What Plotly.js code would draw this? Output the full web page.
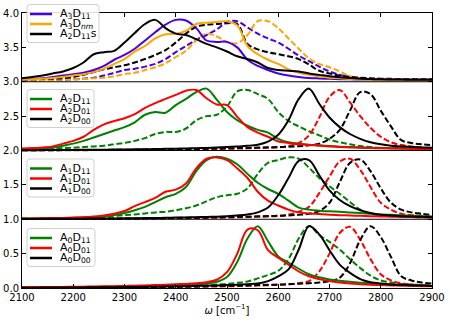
<!DOCTYPE html>
<html>
<head>
<meta charset="utf-8">
<script src="https://cdn.plot.ly/plotly-3.0.1.min.js"></script>
<style>html,body{margin:0;padding:0;background:#fff;}</style>
</head>
<body>
<div id="plot" style="width:450px;height:323px;"></div>
<script>
// wavenumber grid (cm^-1)
var omega = [2100, 2120, 2140, 2160, 2180, 2200, 2220, 2240, 2260, 2280,
             2300, 2320, 2340, 2360, 2380, 2400, 2420, 2440, 2460, 2480,
             2500, 2520, 2540, 2560, 2580, 2600, 2620, 2640, 2660, 2680,
             2700, 2720, 2740, 2760, 2780, 2800, 2820, 2840, 2860, 2880, 2900];

// panel A0 (baseline 0)
var a0d11 = [.01,.01,.011,.012,.013,.014,.015,.016,.018,.02,.022,.025,.028,.032,.036,.04,.045,.05,.065,.09,
             .16,.38,.72,.9,.68,.46,.37,.28,.2,.155,.125,.105,.09,.078,.068,.06,.052,.045,.04,.035,.03];
var a0d01 = [.012,.013,.014,.015,.016,.018,.02,.022,.024,.027,.03,.034,.038,.043,.048,.054,.06,.068,.085,.12,
             .23,.5,.85,.84,.55,.44,.34,.24,.17,.13,.1,.08,.065,.055,.048,.042,.037,.033,.03,.027,.025];
var a0d00 = [.005,.005,.006,.006,.007,.008,.009,.01,.011,.012,.013,.015,.017,.019,.021,.024,.027,.03,.034,.038,
             .043,.048,.055,.065,.1,.17,.27,.56,.9,.78,.55,.34,.22,.13,.085,.065,.052,.045,.04,.035,.03];
var a0d11Dash = [.005,.006,.007,.008,.009,.01,.011,.012,.013,.015,.017,.019,.021,.023,.025,.028,.031,.035,.04,.05,
                 .06,.075,.095,.14,.19,.25,.42,.72,.9,.77,.67,.56,.42,.29,.18,.11,.08,.06,.05,.045,.04];
var a0d01Dash = [.003,.003,.003,.004,.004,.005,.005,.006,.006,.007,.008,.009,.01,.011,.012,.014,.016,.018,.02,.022,
                 .025,.028,.031,.035,.04,.046,.055,.07,.1,.24,.5,.8,.89,.7,.42,.2,.11,.07,.05,.04,.03];
var a0d00Dash = [.004,.004,.005,.005,.006,.006,.007,.008,.009,.01,.011,.012,.013,.015,.017,.019,.021,.023,.026,.029,
                 .032,.035,.038,.042,.046,.05,.055,.062,.07,.08,.1,.15,.36,.7,.9,.74,.45,.17,.11,.08,.065];

// panel A1 (baseline 1)
var a1d11 = [.01,.011,.012,.014,.016,.02,.025,.03,.04,.06,.09,.13,.18,.25,.32,.37,.47,.7,.86,.91,
             .88,.8,.66,.53,.44,.37,.27,.17,.14,.125,.115,.11,.1,.09,.08,.07,.065,.06,.05,.045,.04];
var a1d01 = [.01,.012,.014,.017,.02,.025,.03,.04,.055,.08,.12,.19,.25,.31,.4,.43,.52,.74,.88,.9,
             .86,.74,.6,.4,.27,.2,.14,.1,.085,.075,.065,.06,.055,.05,.045,.04,.037,.034,.031,.028,.025];
var a1d00 = [.005,.005,.006,.006,.007,.008,.009,.01,.011,.012,.013,.015,.017,.019,.021,.024,.027,.03,.034,.038,
             .045,.055,.07,.1,.17,.35,.6,.85,.86,.64,.42,.28,.19,.13,.09,.065,.055,.045,.04,.035,.03];
var a1d11Dash = [.01,.011,.012,.014,.016,.02,.025,.03,.04,.05,.06,.07,.085,.1,.11,.13,.16,.2,.26,.32,
                 .35,.37,.45,.66,.82,.86,.9,.88,.75,.6,.48,.37,.25,.14,.08,.06,.05,.04,.035,.03,.03];
var a1d01Dash = [.003,.003,.003,.004,.004,.005,.005,.006,.006,.007,.008,.009,.01,.011,.012,.014,.016,.018,.02,.022,
                 .025,.028,.032,.036,.04,.048,.07,.11,.18,.38,.62,.84,.88,.72,.47,.24,.14,.08,.06,.05,.04];
var a1d00Dash = [.004,.004,.005,.005,.006,.006,.007,.008,.009,.01,.011,.012,.013,.015,.017,.019,.021,.023,.026,.029,
                 .032,.035,.038,.042,.046,.05,.055,.065,.08,.12,.24,.54,.82,.87,.7,.45,.24,.14,.1,.08,.06];

// panel A2 (baseline 2)
var a2d11 = [.02,.025,.03,.04,.07,.1,.14,.19,.24,.29,.34,.41,.52,.56,.55,.66,.75,.85,.9,.74,
             .56,.44,.36,.3,.26,.17,.12,.1,.085,.075,.065,.055,.05,.045,.04,.035,.032,.03,.027,.025,.022];
var a2d01 = [.03,.035,.045,.06,.1,.14,.2,.3,.38,.43,.47,.53,.62,.69,.75,.81,.87,.88,.76,.67,
             .66,.49,.34,.26,.2,.13,.11,.09,.08,.07,.06,.05,.045,.04,.035,.032,.03,.028,.025,.022,.02];
var a2d00 = [.005,.005,.006,.007,.008,.009,.01,.011,.012,.013,.015,.017,.019,.021,.024,.027,.03,.034,.038,.043,
             .05,.058,.068,.085,.13,.23,.44,.75,.9,.68,.48,.34,.24,.17,.12,.09,.07,.06,.05,.045,.04];
var a2d11Dash = [.02,.022,.025,.03,.035,.04,.05,.06,.07,.09,.11,.14,.18,.24,.27,.27,.32,.44,.5,.52,
                 .64,.86,.88,.82,.75,.56,.43,.35,.28,.22,.16,.12,.09,.065,.05,.04,.035,.032,.03,.028,.025];
var a2d01Dash = [.003,.003,.003,.004,.004,.005,.005,.006,.006,.007,.008,.009,.01,.011,.012,.014,.016,.018,.02,.022,
                 .025,.028,.031,.035,.04,.045,.065,.11,.22,.48,.78,.88,.7,.5,.33,.2,.12,.08,.06,.045,.035];
var a2d00Dash = [.004,.004,.005,.005,.006,.006,.007,.008,.009,.01,.011,.012,.013,.015,.017,.019,.021,.023,.026,.029,
                 .032,.035,.038,.042,.046,.05,.055,.062,.075,.1,.17,.3,.58,.85,.82,.58,.35,.15,.11,.09,.08];

// panel A3 (baseline 3)
var a3d11 = [.03,.04,.05,.07,.09,.11,.13,.17,.23,.32,.39,.48,.6,.72,.83,.9,.89,.78,.6,.58,
             .58,.5,.32,.23,.17,.12,.09,.07,.055,.048,.042,.038,.035,.033,.031,.03,.03,.03,.03,.03,.03];
var a3dnm = [.03,.035,.045,.055,.07,.09,.11,.14,.19,.26,.33,.44,.52,.63,.69,.7,.74,.84,.86,.87,
             .88,.82,.52,.4,.32,.26,.18,.13,.1,.08,.06,.05,.04,.035,.032,.03,.03,.03,.03,.03,.03];
var a2d11s = [.05,.07,.09,.12,.15,.2,.28,.4,.43,.45,.57,.71,.84,.9,.78,.7,.68,.62,.55,.5,
              .44,.37,.33,.28,.2,.17,.16,.15,.12,.1,.08,.065,.055,.045,.04,.035,.033,.031,.03,.03,.03];
var a3d11Dash = [.02,.022,.025,.028,.03,.035,.045,.06,.09,.13,.17,.19,.22,.26,.33,.43,.52,.61,.68,.76,
                 .87,.88,.79,.7,.63,.57,.48,.38,.3,.22,.15,.1,.07,.05,.04,.035,.032,.03,.03,.03,.03];
var a3dnmDash = [.02,.02,.022,.025,.03,.035,.04,.05,.06,.08,.11,.13,.17,.21,.27,.36,.45,.6,.7,.66,
                 .58,.56,.68,.88,.88,.78,.63,.48,.34,.26,.21,.15,.08,.05,.04,.035,.03,.03,.03,.03,.03];
var a2d11sDash = [.03,.035,.04,.045,.05,.07,.1,.14,.18,.21,.24,.28,.33,.39,.46,.57,.7,.8,.83,.84,
                  .85,.84,.55,.47,.43,.4,.37,.33,.25,.16,.12,.09,.07,.06,.05,.045,.042,.04,.04,.04,.04];

// legend labels and colours per panel (bottom to top)
var labels0 = ["A<sub>0</sub>D<sub>11</sub>", "A<sub>0</sub>D<sub>01</sub>", "A<sub>0</sub>D<sub>00</sub>"];
var labels1 = ["A<sub>1</sub>D<sub>11</sub>", "A<sub>1</sub>D<sub>01</sub>", "A<sub>1</sub>D<sub>00</sub>"];
var labels2 = ["A<sub>2</sub>D<sub>11</sub>", "A<sub>2</sub>D<sub>01</sub>", "A<sub>2</sub>D<sub>00</sub>"];
var labels3 = ["A<sub>3</sub>D<sub>11</sub>", "A<sub>3</sub>D<sub><i>nm</i></sub>", "A<sub>2</sub>D<sub>11</sub>s"];
var colorsLow = ["#008000", "#ff0000", "#000000"];
var colorsTop = ["#4600e6", "#ffa500", "#000000"];

var panels = [
  {base: 0, labels: labels0, colors: colorsLow, solid: [a0d11, a0d01, a0d00], dash: [a0d11Dash, a0d01Dash, a0d00Dash]},
  {base: 1, labels: labels1, colors: colorsLow, solid: [a1d11, a1d01, a1d00], dash: [a1d11Dash, a1d01Dash, a1d00Dash]},
  {base: 2, labels: labels2, colors: colorsLow, solid: [a2d11, a2d01, a2d00], dash: [a2d11Dash, a2d01Dash, a2d00Dash]},
  {base: 3, labels: labels3, colors: colorsTop, solid: [a3d11, a3dnm, a2d11s], dash: [a3d11Dash, a3dnmDash, a2d11sDash]}
];

var data = [];
panels.forEach(function(p) {
  p.dash.forEach(function(arr, i) {
    data.push({x: omega, y: arr.map(function(v) { return v + p.base; }), mode: "lines",
      line: {color: p.colors[i], width: 2, dash: "6px,2.6px", shape: "spline", smoothing: 1},
      showlegend: false, hoverinfo: "skip"});
  });
  p.solid.forEach(function(arr, i) {
    data.push({x: omega, y: arr.map(function(v) { return v + p.base; }), mode: "lines",
      line: {color: p.colors[i], width: 2, shape: "spline", smoothing: 1},
      showlegend: false, hoverinfo: "skip"});
  });
});

// page geometry, used for the hand-made legend boxes
var W = 450, H = 323, M = {l: 22, r: 18, t: 13, b: 35};
var pw = W - M.l - M.r, ph = H - M.t - M.b;
function px2x(px) { return (px - M.l) / pw; }
function py2y(py) { return (H - M.b - py) / ph; }

var legendTops = [228.5, 159, 89.5, 4.5];
var legendRights = [95, 94, 94, 99];

function roundBox(x0, y0, x1, y1, r) {
  var rx = r / pw, ry = r / ph;
  var a = px2x(x0), b = px2x(x1), top = py2y(y0), bot = py2y(y1);
  return "M" + (a + rx) + "," + top + " L" + (b - rx) + "," + top +
    " Q" + b + "," + top + " " + b + "," + (top - ry) +
    " L" + b + "," + (bot + ry) + " Q" + b + "," + bot + " " + (b - rx) + "," + bot +
    " L" + (a + rx) + "," + bot + " Q" + a + "," + bot + " " + a + "," + (bot + ry) +
    " L" + a + "," + (top - ry) + " Q" + a + "," + top + " " + (a + rx) + "," + top + " Z";
}

var shapes = [];
var annotations = [];

// panel separators
[1, 2, 3].forEach(function(v) {
  shapes.push({type: "line", xref: "paper", yref: "y", x0: 0, x1: 1, y0: v, y1: v,
    line: {color: "#000", width: 1}, layer: "above"});
});

panels.forEach(function(p, k) {
  var top = legendTops[k];
  shapes.push({type: "path", xref: "paper", yref: "paper", path: roundBox(27, top, legendRights[k], top + 38, 3),
    fillcolor: "rgba(255,255,255,0.85)", line: {color: "#d0d0d0", width: 1}, layer: "above"});
  p.labels.forEach(function(lab, i) {
    var rowY = top + 9.5 + i * 10;
    shapes.push({type: "line", xref: "paper", yref: "paper", x0: px2x(30), x1: px2x(52),
      y0: py2y(rowY), y1: py2y(rowY), line: {color: p.colors[i], width: 2.5}, layer: "above"});
    annotations.push({xref: "paper", yref: "paper", x: px2x(58), y: py2y(rowY), text: lab,
      showarrow: false, xanchor: "left", yanchor: "middle", font: {size: 11, color: "#000"}});
  });
});

var layout = {
  width: W, height: H,
  margin: M,
  paper_bgcolor: "#fff", plot_bgcolor: "#fff",
  font: {family: "DejaVu Sans", size: 10, color: "#000"},
  showlegend: false,
  xaxis: {range: [2100, 2900], tick0: 2100, dtick: 100, ticks: "inside", ticklen: 4, tickwidth: 1,
    tickcolor: "#000", showline: true, linecolor: "#000", linewidth: 1, mirror: "ticks",
    showgrid: false, zeroline: false, tickfont: {size: 10},
    title: {text: "<i>ω</i> [cm<sup>−1</sup>]", font: {size: 10}, standoff: 4}},
  yaxis: {range: [0, 4], tick0: 0, dtick: 0.5, tickformat: ".1f", ticks: "inside", ticklen: 4, tickwidth: 1,
    tickcolor: "#000", showline: true, linecolor: "#000", linewidth: 1, mirror: "ticks",
    showgrid: false, zeroline: false, tickfont: {size: 10}},
  shapes: shapes,
  annotations: annotations
};

Plotly.newPlot("plot", data, layout, {staticPlot: true});
</script>
</body>
</html>
